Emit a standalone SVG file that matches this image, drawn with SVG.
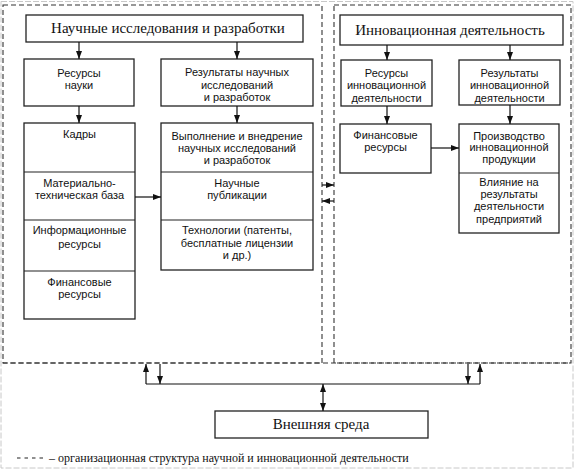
<svg xmlns="http://www.w3.org/2000/svg" width="575" height="470" viewBox="0 0 575 470">
<defs>
<marker id="ah" viewBox="0 0 8 6" refX="8" refY="3" markerWidth="8" markerHeight="6" markerUnits="userSpaceOnUse" orient="auto-start-reverse">
<path d="M0,0 L8,3 L0,6 z" fill="#111"/>
</marker>
<style>
.frame{fill:none;stroke:#c8c8c8;stroke-width:1;stroke-dasharray:6 2}
.dash{fill:none;stroke:#333;stroke-width:1.1;stroke-dasharray:5 3}
.box{fill:#fff;stroke:#222;stroke-width:1.3}
.div{stroke:#222;stroke-width:1.1}
.c{fill:none;stroke:#111;stroke-width:1.2}
.a{marker-end:url(#ah)}
.d{marker-start:url(#ah);marker-end:url(#ah)}
.s{font-family:"Liberation Sans",Arial,sans-serif;font-size:11px;fill:#111;text-anchor:middle}
.t{font-family:"Liberation Serif","Times New Roman",serif;font-size:15px;fill:#111;text-anchor:middle}
.l{font-family:"Liberation Serif","Times New Roman",serif;font-size:12px;fill:#111}
</style>
</defs>
<rect width="575" height="470" fill="#fff"/>
<rect class="frame" x="1" y="1.5" width="572" height="466.5"/>
<g id="org-structure">
<rect class="dash" x="3" y="5" width="319" height="358"/>
<rect class="dash" x="334" y="5" width="237" height="358"/>
<line class="dash" x1="3" y1="363" x2="571" y2="363"/>
</g>
<g id="n-science">
<rect class="box" x="26" y="15" width="277" height="27"/>
<text class="t" x="168" y="33">Научные исследования и разработки</text>
</g>
<g id="n-res-science">
<rect class="box" x="24" y="59" width="110" height="47"/>
<text class="s" x="79" y="77">Ресурсы</text>
<text class="s" x="79" y="89">науки</text>
</g>
<g id="n-results-science">
<rect class="box" x="161" y="59" width="152" height="47"/>
<text class="s" x="237" y="76">Результаты научных</text>
<text class="s" x="237" y="88.5">исследований</text>
<text class="s" x="237" y="101">и разработок</text>
</g>
<g id="n-res-stack">
<rect class="box" x="24" y="123" width="111" height="196"/>
<line class="div" x1="24" y1="172" x2="135" y2="172"/>
<line class="div" x1="24" y1="220" x2="135" y2="220"/>
<line class="div" x1="24" y1="271" x2="135" y2="271"/>
<text class="s" x="79.5" y="138">Кадры</text>
<text class="s" x="79.5" y="187">Материально-</text>
<text class="s" x="79.5" y="199">техническая база</text>
<text class="s" x="79.5" y="234">Информационные</text>
<text class="s" x="79.5" y="248">ресурсы</text>
<text class="s" x="79.5" y="286">Финансовые</text>
<text class="s" x="79.5" y="298">ресурсы</text>
</g>
<g id="n-results-stack">
<rect class="box" x="161" y="123" width="152" height="147"/>
<line class="div" x1="161" y1="172" x2="313" y2="172"/>
<line class="div" x1="161" y1="220" x2="313" y2="220"/>
<text class="s" x="237" y="140">Выполнение и внедрение</text>
<text class="s" x="237" y="152">научных исследований</text>
<text class="s" x="237" y="163.5">и разработок</text>
<text class="s" x="237" y="187">Научные</text>
<text class="s" x="237" y="199">публикации</text>
<text class="s" x="237" y="234">Технологии (патенты,</text>
<text class="s" x="237" y="247">бесплатные лицензии</text>
<text class="s" x="237" y="259">и др.)</text>
</g>
<g id="n-innovation">
<rect class="box" x="340" y="15" width="223" height="30"/>
<text class="t" x="450" y="35">Инновационная деятельность</text>
</g>
<g id="n-res-innov">
<rect class="box" x="341" y="60" width="91" height="46"/>
<text class="s" x="386.5" y="77">Ресурсы</text>
<text class="s" x="386.5" y="89">инновационной</text>
<text class="s" x="386.5" y="102">деятельности</text>
</g>
<g id="n-results-innov">
<rect class="box" x="459" y="60" width="101" height="45"/>
<text class="s" x="509.5" y="77">Результаты</text>
<text class="s" x="509.5" y="89">инновационной</text>
<text class="s" x="509.5" y="102">деятельности</text>
</g>
<g id="n-fin-innov">
<rect class="box" x="340" y="124" width="91" height="49"/>
<text class="s" x="385.5" y="139">Финансовые</text>
<text class="s" x="385.5" y="151">ресурсы</text>
</g>
<g id="n-production-stack">
<rect class="box" x="459" y="124" width="100" height="109"/>
<line class="div" x1="459" y1="173" x2="559" y2="173"/>
<text class="s" x="509" y="139.5">Производство</text>
<text class="s" x="509" y="151">инновационной</text>
<text class="s" x="509" y="162.5">продукции</text>
<text class="s" x="509" y="186">Влияние на</text>
<text class="s" x="509" y="198">результаты</text>
<text class="s" x="509" y="210">деятельности</text>
<text class="s" x="509" y="222.5">предприятий</text>
</g>
<g id="n-environment">
<rect class="box" x="215" y="411" width="213" height="27"/>
<text class="t" x="321" y="429">Внешняя среда</text>
</g>
<g id="connectors">
<line class="c a" x1="79" y1="42" x2="79" y2="59"/>
<line class="c a" x1="237" y1="42" x2="237" y2="59"/>
<line class="c a" x1="79" y1="106" x2="79" y2="123"/>
<line class="c a" x1="237" y1="106" x2="237" y2="123"/>
<line class="c a" x1="135" y1="197" x2="161" y2="197"/>
<line class="c a" x1="387" y1="45" x2="387" y2="60"/>
<line class="c a" x1="510" y1="45" x2="510" y2="60"/>
<line class="c a" x1="387" y1="106" x2="387" y2="124"/>
<line class="c a" x1="510" y1="105" x2="510" y2="124"/>
<line class="c a" x1="431" y1="148" x2="459" y2="148"/>
<line class="c a" x1="322" y1="185" x2="334" y2="185"/>
<line class="c a" x1="334" y1="201" x2="322" y2="201"/>
<line class="c" x1="146" y1="384" x2="480" y2="384"/>
<line class="c a" x1="146" y1="384" x2="146" y2="364"/>
<line class="c a" x1="160" y1="364" x2="160" y2="384"/>
<line class="c a" x1="468" y1="364" x2="468" y2="384"/>
<line class="c a" x1="480" y1="384" x2="480" y2="364"/>
<line class="c d" x1="323" y1="384" x2="323" y2="411"/>
</g>
<g id="legend">
<line x1="17" y1="458" x2="46" y2="458" stroke="#222" stroke-width="1.2" stroke-dasharray="3.5 4"/>
<text class="l" x="49" y="462">– организационная структура научной и инновационной деятельности</text>
</g>
</svg>
